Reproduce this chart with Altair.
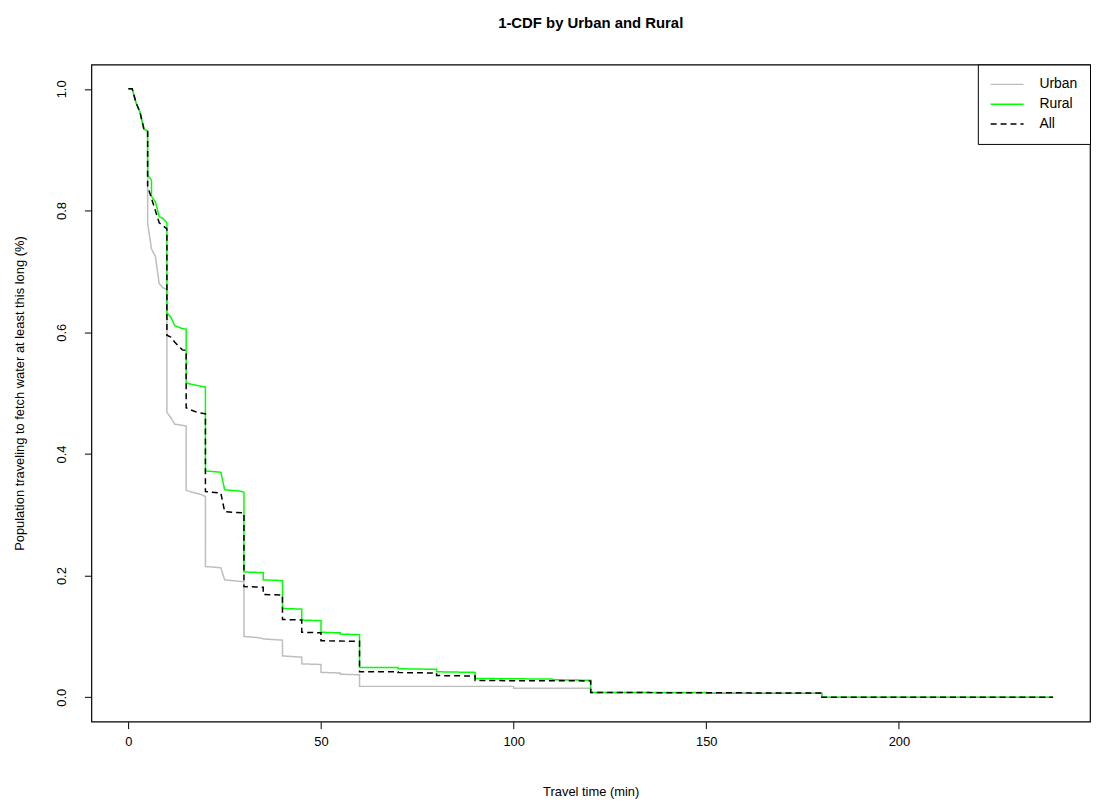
import altair as alt
import pandas as pd

series_names = ["Urban", "Rural", "All"]
series_colors = ["#BEBEBE", "#00FF00", "#000000"]

urban_t = [0, 1, 2, 3, 4, 5, 5, 6, 7, 8, 9, 10, 10, 11, 12, 15, 15, 19, 20, 20, 24, 25, 30, 30,
           34, 35, 40, 40, 45, 45, 50, 50, 55, 55, 60, 60, 100, 100, 120, 120, 180, 180, 240]
urban_v = [1.0, 1.0, 0.977, 0.962, 0.933, 0.93, 0.779, 0.737, 0.725, 0.68, 0.673, 0.67, 0.468, 0.46,
           0.449, 0.446, 0.34, 0.333, 0.33, 0.215, 0.213, 0.193, 0.19, 0.10, 0.098, 0.096, 0.094,
           0.068, 0.066, 0.055, 0.054, 0.041, 0.04, 0.038, 0.037, 0.018, 0.018, 0.015, 0.015, 0.008,
           0.007, 0.0, 0.0]

rural_t = [0, 1, 2, 3, 4, 5, 5, 6, 6, 7, 8, 9, 10, 10, 11, 12, 14, 15, 15, 16, 19, 20, 20, 24, 25,
           29, 30, 30, 35, 35, 40, 40, 45, 45, 50, 50, 55, 55, 60, 60, 70, 70, 80, 80, 90, 90, 110,
           110, 120, 120, 150, 150, 180, 180, 240]
rural_v = [1.0, 1.0, 0.977, 0.962, 0.935, 0.93, 0.858, 0.85, 0.823, 0.815, 0.79, 0.787, 0.78, 0.632,
           0.625, 0.611, 0.606, 0.605, 0.517, 0.515, 0.511, 0.51, 0.372, 0.37, 0.341, 0.339, 0.337,
           0.206, 0.205, 0.193, 0.192, 0.146, 0.145, 0.127, 0.126, 0.107, 0.106, 0.104, 0.103,
           0.049, 0.049, 0.047, 0.046, 0.042, 0.041, 0.031, 0.030, 0.029, 0.028, 0.008, 0.008,
           0.0065, 0.0065, 0.0, 0.0]

all_t = [0, 1, 2, 3, 4, 5, 5, 6, 7, 8, 9, 10, 10, 11, 12, 14, 15, 15, 16, 18, 20, 20, 24, 25, 30,
         30, 35, 35, 40, 40, 45, 45, 50, 50, 60, 60, 70, 70, 80, 80, 90, 90, 120, 120, 180, 180, 240]
all_v = [1.0, 1.0, 0.977, 0.962, 0.935, 0.93, 0.84, 0.82, 0.80, 0.78, 0.775, 0.77, 0.595, 0.592,
         0.584, 0.571, 0.57, 0.476, 0.473, 0.468, 0.466, 0.338, 0.336, 0.305, 0.303, 0.182, 0.181,
         0.169, 0.168, 0.128, 0.127, 0.107, 0.106, 0.093, 0.092, 0.042, 0.042, 0.0407, 0.040,
         0.0358, 0.035, 0.0276, 0.027, 0.008, 0.007, 0.0, 0.0]

x_ticks = [0, 50, 100, 150, 200]
y_ticks = [0.0, 0.2, 0.4, 0.6, 0.8, 1.0]

frames = []
for name, ts, vs in [("Urban", urban_t, urban_v), ("Rural", rural_t, rural_v), ("All", all_t, all_v)]:
    frames.append(pd.DataFrame({"t": ts, "v": vs, "series": name, "idx": range(len(ts))}))
df = pd.concat(frames, ignore_index=True)

FONT = "Liberation Sans"

color_scale = alt.Scale(domain=series_names, range=series_colors)
dash_scale = alt.Scale(domain=series_names, range=[[1, 0], [1, 0], [6, 4]])

x_enc = alt.X("t:Q", scale=alt.Scale(domain=[-9.6, 249.6], nice=False, zero=False),
              axis=alt.Axis(values=x_ticks, title="Travel time (min)", grid=False, domain=False,
                            ticks=True, tickSize=7, tickColor="black", labelPadding=7,
                            labelFontSize=13, labelColor="black", titleFontSize=13,
                            titleFontWeight="normal", titleColor="black", titleY=70,
                            titleBaseline="middle", labelFont=FONT, titleFont=FONT))
y_enc = alt.Y("v:Q", scale=alt.Scale(domain=[-0.04, 1.04], nice=False, zero=False),
              axis=alt.Axis(values=y_ticks, format=".1f",
                            title="Population traveling to fetch water at least this long (%)",
                            grid=False, domain=False, ticks=True, tickSize=7, tickColor="black",
                            labelAngle=270, labelAlign="center", labelBaseline="middle",
                            labelPadding=23, labelFontSize=13, labelColor="black",
                            titleFontSize=13, titleFontWeight="normal", titleColor="black",
                            titleX=-72, titleY=331, titleBaseline="middle", titleAngle=270,
                            labelFont=FONT, titleFont=FONT))

legend = alt.Legend(title=None, orient="top-right", offset=0, strokeColor="black",
                    fillColor="white", padding=12, symbolType="stroke", symbolSize=1100,
                    symbolStrokeWidth=1.5, labelFontSize=14, labelFont=FONT, labelColor="black",
                    labelOffset=15, rowPadding=4, clipHeight=16, cornerRadius=0)

layers = []
for name in series_names:
    layers.append(
        alt.Chart(df).transform_filter(alt.datum.series == name)
        .mark_line(strokeWidth=1.5, interpolate="linear")
        .encode(x=x_enc, y=y_enc,
                color=alt.Color("series:N", scale=color_scale, legend=legend),
                strokeDash=alt.StrokeDash("series:N", scale=dash_scale, legend=legend),
                order=alt.Order("idx:Q"))
    )

chart = alt.layer(*layers).properties(
    width=1006, height=662,
    title=alt.TitleParams("1-CDF by Urban and Rural", fontSize=15, fontWeight="bold",
                          font=FONT, anchor="middle", offset=33, color="black"),
    autosize=alt.AutoSizeParams(type="none"),
    padding={"left": 84, "top": 54, "right": 2, "bottom": 80},
).configure(background="white").configure_view(stroke="black", strokeWidth=1.2)

chart.save("out.html", embed_options={"renderer": "svg", "actions": False})
